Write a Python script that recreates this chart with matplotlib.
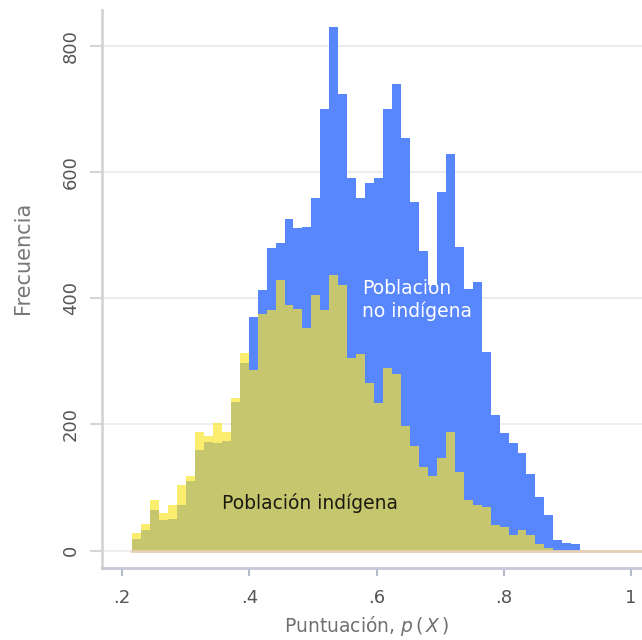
import numpy as np
import matplotlib.pyplot as plt

# shared histogram bins for both groups (50 bins)
bin_edges = np.linspace(0.216, 0.92, 51)

# frequencies per bin, non-indigenous population
freq_no_indigena = [19, 33, 64, 48, 50, 72, 110, 159, 172, 170,
                    174, 235, 297, 370, 413, 480, 487, 525, 511, 513,
                    558, 700, 830, 723, 590, 559, 583, 590, 700, 739,
                    653, 552, 475, 421, 568, 628, 481, 415, 426, 315,
                    215, 186, 170, 154, 122, 85, 56, 17, 12, 10]

# frequencies per bin, indigenous population
freq_indigena = [27, 42, 80, 60, 72, 104, 118, 188, 182, 202,
                 188, 242, 313, 286, 375, 381, 429, 389, 382, 352,
                 405, 381, 437, 421, 305, 311, 266, 233, 289, 280,
                 198, 165, 132, 118, 147, 188, 125, 80, 72, 69,
                 40, 38, 25, 32, 25, 10, 4, 0, 0, 0]

x_ticks = [0.2, 0.4, 0.6, 0.8, 1.0]
x_ticklabels = [".2", ".4", ".6", ".8", "1"]
y_ticks = [0, 200, 400, 600, 800]

blue = "#5886fc"
yellow = "#fae52a"
tick_grey = "#555555"

fig = plt.figure(figsize=(6.42, 6.40), dpi=100)
ax = fig.add_axes([0.1589, 0.1125, 0.8411, 0.8719])

widths = np.diff(bin_edges)
ax.bar(bin_edges[:-1], freq_no_indigena, width=widths, align="edge",
       color=blue, linewidth=0, zorder=2)
ax.bar(bin_edges[:-1], freq_indigena, width=widths, align="edge",
       color=yellow, alpha=0.68, linewidth=0, zorder=3)

ax.set_xlim(0.1686, 1.017)
ax.set_ylim(-27.7, 856.6)

# baseline under the bars
x0, x1 = ax.get_xlim()
ax.axhline(0, xmin=(bin_edges[0] - x0) / (x1 - x0), xmax=1,
           color="#e6cfb2", lw=2, zorder=4)

ax.set_yticks(y_ticks)
ax.set_yticklabels([str(v) for v in y_ticks], rotation=90, va="center")
ax.set_xticks(x_ticks)
ax.set_xticklabels(x_ticklabels)
ax.yaxis.grid(True, color="#eeeeee", lw=1.5, zorder=0)
ax.set_axisbelow(True)

ax.tick_params(axis="y", length=9, width=1.5, color="#d5d5d5", pad=7,
               labelsize=13, labelcolor=tick_grey)
ax.tick_params(axis="x", length=6, width=1.5, color="#b4bccb", pad=9,
               labelsize=13, labelcolor=tick_grey)

for side in ["top", "right"]:
    ax.spines[side].set_visible(False)
ax.spines["left"].set_color("#d5d5d5")
ax.spines["left"].set_linewidth(2)
ax.spines["bottom"].set_color("#c8c8d8")
ax.spines["bottom"].set_linewidth(2)

ax.set_ylabel("Frecuencia", fontsize=15, color="#777777")
ax.yaxis.set_label_coords(-0.128, 0.556)
ax.set_xlabel("Puntuación, $p\\,(\\,X\\,)$", fontsize=13.5, color="#707070")
ax.xaxis.set_label_coords(0.49, -0.083)

ax.text(0.577, 370, "Población\nno indígena", color="white", fontsize=13.5,
        ha="left", va="baseline", linespacing=1.2, zorder=5)
ax.text(0.357, 66, "Población indígena", color="#1a1a10", fontsize=13.5,
        ha="left", va="baseline", zorder=5)

fig.savefig("out.png", dpi=100)
